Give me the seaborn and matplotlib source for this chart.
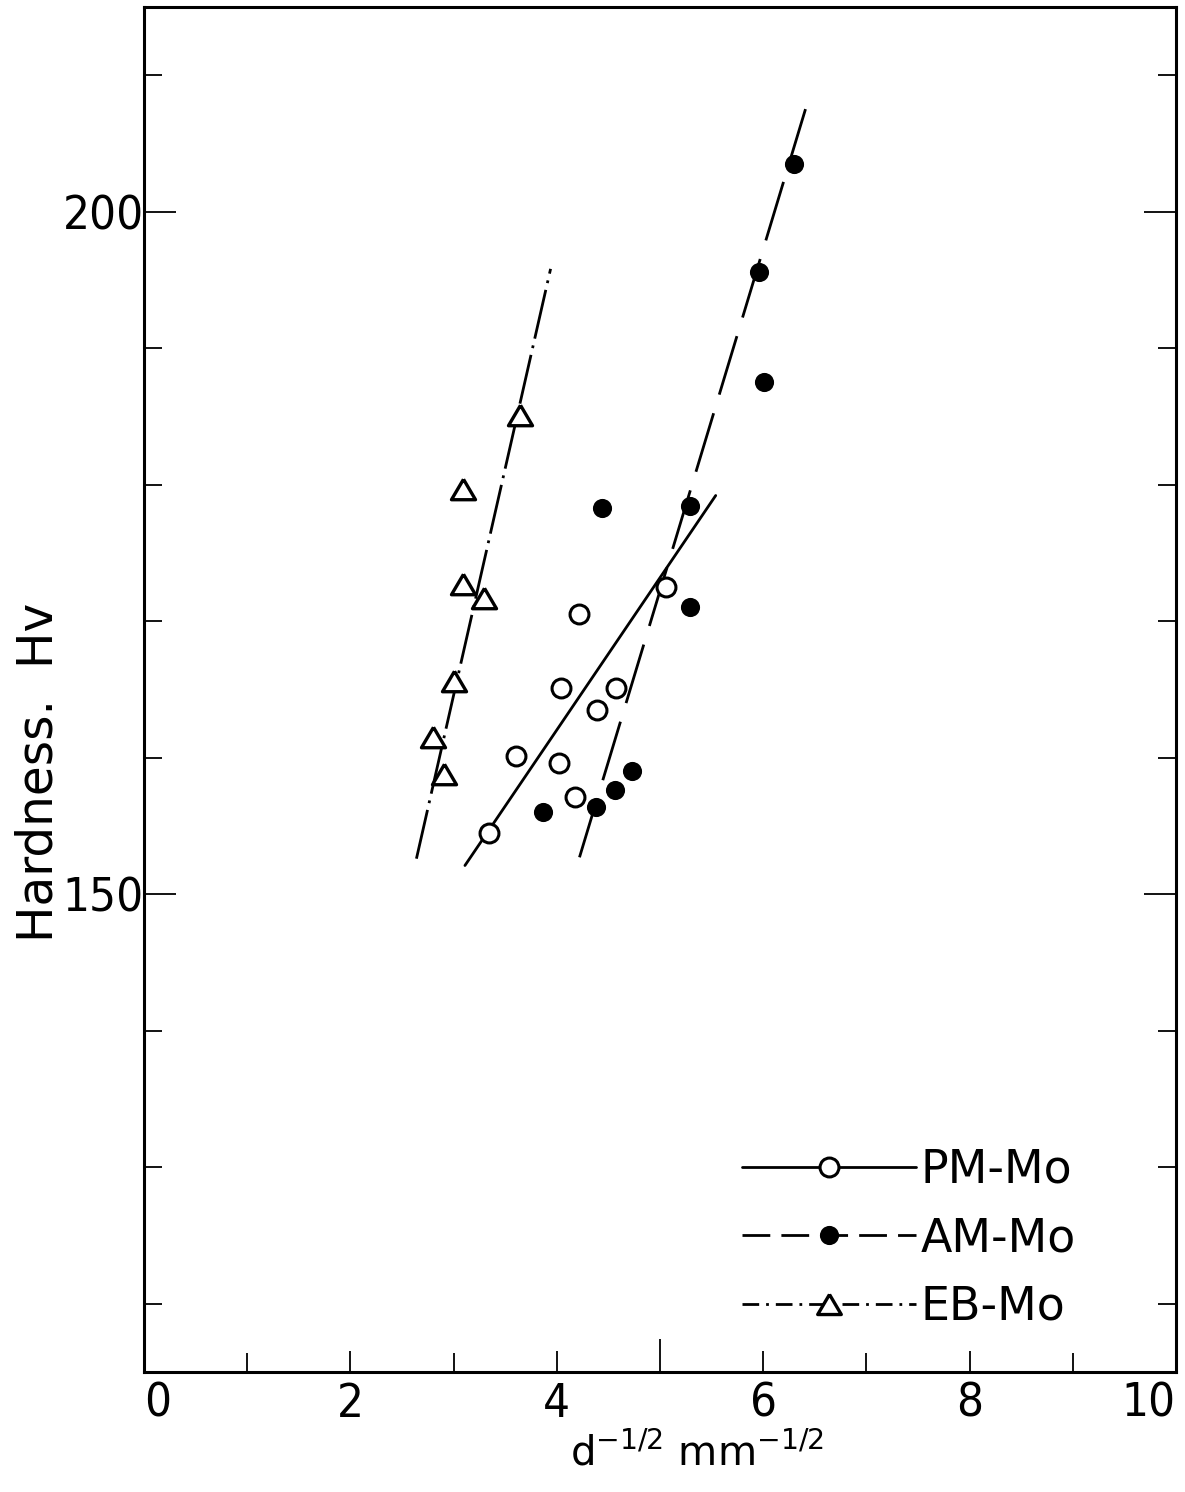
import matplotlib
matplotlib.use("Agg")
import matplotlib.pyplot as plt
from matplotlib import font_manager
from matplotlib.font_manager import FontProperties
from matplotlib.lines import Line2D
from matplotlib.ticker import FixedLocator, NullFormatter
import seaborn as sns

# Measured hardness vs. inverse square root of grain size
pm_x = [3.34, 3.60, 4.02, 4.04, 4.18, 4.22, 4.39, 4.57, 5.06]
pm_y = [154.5, 160.1, 159.6, 165.1, 157.1, 170.5, 163.5, 165.1, 172.5]

am_x = [3.87, 4.38, 4.56, 4.73, 4.44, 5.29, 5.29, 6.01, 5.96, 6.30]
am_y = [156.0, 156.4, 157.6, 159.0, 178.3, 178.4, 171.0, 187.5, 195.6, 203.5]

eb_x = [3.64, 3.09, 3.09, 3.29, 3.00, 2.80, 2.91]
eb_y = [185.1, 179.7, 172.7, 171.7, 165.6, 161.5, 158.8]

# Hall-Petch fit lines (end points)
pm_fit_x = [3.11, 5.54]
pm_fit_y = [152.1, 179.2]
am_fit_x = [4.22, 6.41]
am_fit_y = [152.7, 207.5]
eb_fit_x = [2.64, 3.94]
eb_fit_y = [152.6, 195.8]

labels = ["PM-Mo", "AM-Mo", "EB-Mo"]
x_tickvals = [0, 2, 4, 5, 6, 8, 10]
x_ticklabels = ["0", "2", "4", "", "6", "8", "10"]
y_tickvals = [150, 200]
y_ticklabels = ["150", "200"]

sns.set_style("ticks")
plt.rcParams["font.family"] = ["DejaVu Sans"]
plt.rcParams["mathtext.fontset"] = "dejavusans"
for key in ["text.color", "axes.labelcolor", "xtick.color", "ytick.color",
            "axes.edgecolor"]:
    plt.rcParams[key] = "black"

# pick a narrow sans face for the tick numbers if one is installed
narrow_file = None
for f in font_manager.fontManager.ttflist:
    fn = f.fname.lower()
    if ("condensed" in fn or "narrow" in fn) and "bold" not in fn \
            and "italic" not in fn and "oblique" not in fn and "mono" not in fn \
            and "serif" not in fn.replace("sans", ""):
        narrow_file = f.fname
        break
if narrow_file:
    tick_font = FontProperties(fname=narrow_file, size=34)
else:
    tick_font = FontProperties(family="DejaVu Sans", size=29)

fig = plt.figure(figsize=(11.85, 14.92), dpi=100)
ax = fig.add_axes([0.1215, 0.0804, 0.8709, 0.9151])

LW = 2.0
dash_am = (0, (22, 7))
dash_eb = (0, (18, 2.5, 1, 2.5))

sns.lineplot(x=pm_fit_x, y=pm_fit_y, color="black", lw=LW, ax=ax, zorder=2)
sns.lineplot(x=am_fit_x, y=am_fit_y, color="black", lw=LW, linestyle=dash_am, ax=ax, zorder=2)
sns.lineplot(x=eb_fit_x, y=eb_fit_y, color="black", lw=LW, linestyle=dash_eb, ax=ax, zorder=2)

sns.scatterplot(x=pm_x, y=pm_y, marker="o", s=185, facecolor="white",
                edgecolor="black", linewidth=2.2, ax=ax, zorder=3)
sns.scatterplot(x=am_x, y=am_y, marker="o", s=190, color="black",
                linewidth=0, ax=ax, zorder=3)
tri = [(0, 0.85), (-1, -0.85), (1, -0.85), (0, 0.85)]
sns.scatterplot(x=eb_x, y=eb_y, marker=tri, s=300, facecolor="white",
                edgecolor="black", linewidth=2.4, ax=ax, zorder=3)

ax.set_xlim(0, 10)
ax.set_ylim(115, 215)

for side in ["left", "right", "top", "bottom"]:
    ax.spines[side].set_linewidth(2.2)
    ax.spines[side].set_color("black")

# x ticks: every unit, labels on even values, longer tick at 5
ax.xaxis.set_major_locator(FixedLocator(x_tickvals))
ax.set_xticklabels(x_ticklabels)
ax.xaxis.set_minor_locator(FixedLocator([1, 3, 7, 9]))
ax.tick_params(axis="x", which="both", direction="in", width=1.3, color="black",
               pad=7, top=False)
ax.tick_params(axis="x", which="major", length=15)
ax.tick_params(axis="x", which="minor", length=14)
for t, v in zip(ax.xaxis.get_major_ticks(), x_tickvals):
    if v == 5:
        t.tick1line.set_markersize(24)
xlabs = ax.get_xticklabels()
for lab in xlabs:
    lab.set_fontproperties(tick_font)
xlabs[0].set_ha("left")
xlabs[-1].set_ha("right")

# y ticks: labelled at 150 and 200, minor every 10, on both sides
ax.yaxis.set_major_locator(FixedLocator(y_tickvals))
ax.set_yticklabels(y_ticklabels)
ax.yaxis.set_minor_locator(FixedLocator([120, 130, 140, 160, 170, 180, 190, 210]))
ax.yaxis.set_minor_formatter(NullFormatter())
ax.tick_params(axis="y", which="both", direction="in", width=1.3, color="black",
               left=True, right=True, pad=0)
ax.tick_params(axis="y", which="major", length=23)
ax.tick_params(axis="y", which="minor", length=13)
for lab in ax.get_yticklabels():
    lab.set_fontproperties(tick_font)

ax.set_xlabel(r"d$^{-1/2}$ mm$^{-1/2}$", fontsize=29)
ax.xaxis.set_label_coords(0.536, -0.045)
ax.xaxis.label.set_va("top")
ax.set_ylabel("Hardness.  Hv", fontsize=35)
ax.yaxis.set_label_coords(-0.079, 0.439)

handles = [
    Line2D([], [], color="black", lw=LW, marker="o", markersize=13.6,
           markerfacecolor="white", markeredgecolor="black", markeredgewidth=2.2),
    Line2D([], [], color="black", lw=LW, linestyle=(0, (10, 4)), marker="o",
           markersize=13.8, markerfacecolor="black", markeredgewidth=0),
    Line2D([], [], color="black", lw=LW, linestyle=(0, (6, 2.5, 1, 2.5)),
           marker=tri, markersize=17, markerfacecolor="white",
           markeredgecolor="black", markeredgewidth=2.4),
]
ax.legend(handles, labels, loc="lower left", bbox_to_anchor=(0.579, 0.031),
          frameon=False, fontsize=33, handlelength=3.8, handletextpad=0.1,
          labelspacing=0.51, borderpad=0, borderaxespad=0)

fig.savefig("out.png", dpi=100)
